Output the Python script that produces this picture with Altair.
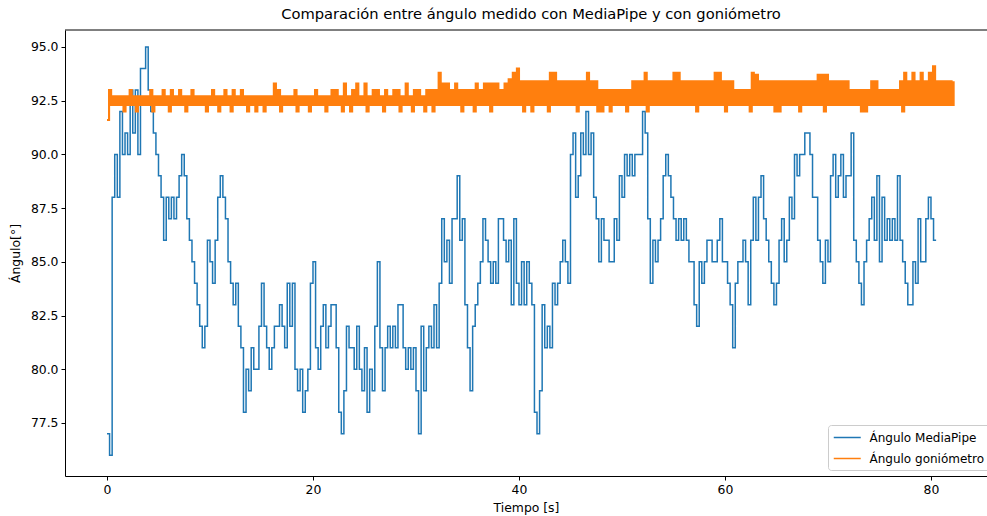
import altair as alt
import pandas as pd

TITLE = "Comparación entre ángulo medido con MediaPipe y con goniómetro"
SERIES = ["Ángulo MediaPipe", "Ángulo goniómetro"]
COLORS = ["#1f77b4", "#ff7f0e"]
X_TICKS = [0, 20, 40, 60, 80]
Y_TICKS = [77.5, 80.0, 82.5, 85.0, 87.5, 90.0, 92.5, 95.0]
DT_MEDIAPIPE = 0.25   # s between MediaPipe readings below
DT_GONIO = 0.2        # s between goniometer readings below

# MediaPipe angle (deg), 4 readings per second, rows = seconds 0..80
mediapipe = [
    77, 76, 88, 90,  88, 92, 90, 91,  90, 93, 91, 93,  90, 94, 94, 95,  93, 92, 91, 90,
    89, 88, 86, 88,  87, 88, 87, 88,  89, 90, 89, 87,  86, 85, 84, 83,  82, 81, 82, 86,
    85, 84, 86, 88,  89, 88, 87, 85,  84, 83, 84, 82,  81, 78, 80, 79,  81, 80, 80, 82,
    84, 82, 81, 80,  81, 82, 82, 83,  82, 81, 84, 82,  84, 80, 79, 80,  78, 79, 80, 84,
    85, 81, 80, 82,  83, 81, 82, 83,  83, 81, 78, 77,  79, 82, 81, 81,  80, 82, 80, 79,
    81, 78, 80, 79,  82, 85, 81, 79,  81, 82, 81, 82,  81, 83, 83, 81,  80, 81, 80, 81,
    79, 77, 82, 79,  81, 82, 81, 83,  81, 84, 87, 85,  86, 84, 87, 87,  89, 86, 87, 83,
    81, 79, 82, 83,  84, 85, 87, 86,  85, 84, 85, 84,  87, 87, 86, 85,  86, 83, 87, 84,
    83, 85, 83, 85,  84, 83, 78, 77,  79, 83, 81, 82,  81, 84, 83, 84,  85, 86, 85, 84,
    90, 91, 88, 89,  91, 90, 92, 90,  91, 88, 87, 85,  87, 86, 86, 85,  85, 87, 86, 89,
    88, 90, 89, 90,  89, 90, 90, 90,  92, 91, 87, 84,  86, 85, 86, 87,  89, 90, 89, 88,
    87, 86, 87, 86,  87, 86, 85, 85,  83, 82, 85, 84,  85, 86, 86, 85,  85, 86, 87, 85,
    85, 84, 83, 81,  84, 85, 85, 86,  85, 83, 86, 88,  86, 88, 89, 87,  86, 85, 84, 83,
    84, 86, 87, 85,  86, 88, 87, 90,  89, 90, 90, 91,  91, 90, 88, 88,  86, 85, 84, 86,
    85, 89, 90, 88,  89, 90, 88, 89,  89, 91, 86, 85,  84, 83, 85, 86,  87, 88, 86, 89,
    85, 88, 86, 87,  86, 87, 86, 89,  86, 85, 84, 83,  83, 85, 84, 87,  85, 85, 87, 88,
    87, 86, 86,
]

# Goniometer angle (deg), 5 readings per second, one row per second (0..82)
goniometro = [
    91.6, 93.0, 92.3, 92.7, 92.3,  92.7, 92.3, 92.7, 92.0, 92.7,
    92.3, 93.0, 92.3, 92.7, 92.0,  92.7, 92.3, 92.7, 92.3, 92.7,
    92.3, 93.0, 92.0, 92.7, 92.3,  92.7, 92.3, 93.0, 92.3, 92.7,
    92.0, 93.0, 92.3, 92.7, 92.3,  93.0, 92.3, 92.7, 92.0, 92.7,
    92.3, 93.0, 92.3, 92.7, 92.3,  92.7, 92.3, 92.7, 92.0, 92.7,
    92.3, 93.0, 92.3, 92.7, 92.0,  92.7, 92.3, 93.0, 92.3, 92.7,
    92.0, 93.0, 92.3, 92.7, 92.3,  93.0, 92.3, 92.7, 92.0, 92.7,
    92.3, 92.7, 92.0, 92.7, 92.3,  92.7, 92.0, 92.7, 92.3, 92.7,
    92.3, 93.3, 92.3, 93.0, 92.0,  92.7, 92.3, 92.7, 92.3, 92.7,
    92.3, 93.0, 92.0, 92.7, 92.3,  92.7, 92.3, 92.7, 92.0, 92.7,
    92.3, 93.0, 92.3, 92.7, 92.3,  92.7, 92.0, 92.7, 92.3, 93.0,
    92.3, 93.0, 92.3, 92.7, 92.0,  93.3, 92.3, 92.7, 92.0, 93.0,
    92.3, 93.3, 92.3, 92.7, 92.3,  93.3, 92.0, 92.7, 92.3, 93.0,
    92.3, 93.0, 92.3, 92.7, 92.0,  93.0, 92.3, 92.7, 92.3, 93.0,
    92.3, 93.0, 92.0, 92.7, 92.3,  93.3, 92.3, 92.7, 92.0, 93.0,
    92.3, 93.0, 92.3, 92.7, 92.0,  93.0, 92.3, 93.0, 92.0, 93.0,
    92.3, 93.8, 92.3, 93.3, 92.3,  93.3, 92.3, 93.0, 92.3, 93.3,
    92.3, 93.0, 92.0, 93.0, 92.3,  93.0, 92.3, 93.0, 92.0, 93.3,
    92.3, 93.0, 92.3, 93.3, 92.3,  93.3, 92.0, 93.3, 92.3, 93.3,
    92.3, 93.0, 92.3, 93.3, 92.3,  93.5, 92.3, 93.8, 92.3, 94.0,
    92.3, 93.4, 92.0, 93.4, 92.3,  93.4, 92.0, 93.4, 92.3, 93.4,
    92.3, 93.4, 92.3, 93.4, 92.0,  93.8, 92.3, 93.8, 92.3, 93.4,
    92.3, 93.4, 92.3, 93.4, 92.3,  93.4, 92.3, 93.4, 92.0, 93.4,
    92.3, 93.4, 92.3, 93.8, 92.3,  93.4, 92.3, 93.4, 92.0, 93.0,
    92.0, 93.0, 92.3, 93.0, 92.0,  93.0, 92.3, 93.0, 92.3, 93.0,
    92.3, 93.0, 92.0, 93.0, 92.3,  93.4, 92.3, 93.4, 92.3, 93.4,
    92.3, 93.8, 92.0, 93.4, 92.3,  93.4, 92.3, 93.4, 92.3, 93.4,
    92.3, 93.4, 92.3, 93.4, 92.3,  93.8, 92.3, 93.8, 92.3, 93.4,
    92.3, 93.4, 92.3, 93.4, 92.3,  93.4, 92.0, 93.4, 92.3, 93.4,
    92.3, 93.4, 92.3, 93.4, 92.3,  93.8, 92.3, 93.8, 92.3, 93.4,
    92.0, 93.4, 92.3, 93.4, 92.3,  93.0, 92.3, 93.0, 92.3, 93.0,
    92.3, 93.0, 92.0, 93.8, 92.3,  93.7, 92.3, 93.4, 92.3, 93.4,
    92.3, 93.4, 92.3, 93.4, 92.0,  93.4, 92.0, 93.4, 92.3, 93.4,
    92.3, 93.4, 92.3, 93.4, 92.3,  93.4, 92.0, 93.4, 92.3, 93.4,
    92.3, 93.4, 92.3, 93.4, 92.3,  93.7, 92.3, 93.7, 92.0, 93.7,
    92.3, 93.4, 92.3, 93.4, 92.3,  93.4, 92.3, 93.4, 92.3, 93.4,
    92.3, 93.0, 92.3, 93.0, 92.3,  93.0, 92.0, 93.0, 92.0, 93.0,
    92.3, 93.4, 92.3, 93.4, 92.3,  93.0, 92.3, 93.0, 92.3, 93.0,
    92.3, 93.0, 92.3, 93.0, 92.3,  93.4, 92.0, 93.8, 92.3, 93.4,
    92.3, 93.8, 92.3, 93.4, 92.3,  93.8, 92.3, 93.4, 92.3, 93.8,
    92.3, 94.1, 92.3, 93.4, 92.3,  93.4, 92.3, 93.4, 92.3, 93.4,
    92.3, 93.4,
]

df_m = pd.DataFrame({
    "t": [i * DT_MEDIAPIPE for i in range(len(mediapipe))],
    "v": mediapipe,
    "serie": SERIES[0],
})
df_g = pd.DataFrame({
    "t": [i * DT_GONIO for i in range(len(goniometro))],
    "v": goniometro,
    "serie": SERIES[1],
})

FONT = "DejaVu Sans"
FS = 12.4

color = alt.Color(
    "serie:N",
    scale=alt.Scale(domain=SERIES, range=COLORS),
    legend=alt.Legend(
        orient="none", legendX=763, legendY=395, title=None,
        symbolType="M-1,0L3,0", symbolSize=182.25, symbolStrokeWidth=1.5,
        labelFontSize=12, labelFont=FONT, labelColor="black", labelOffset=21.5,
        fillColor="white", strokeColor="#cccccc", cornerRadius=3,
        padding=5, rowPadding=7, direction="vertical",
    ),
)
x = alt.X(
    "t:Q",
    scale=alt.Scale(domain=[-4.078, 85.44], nice=False, zero=False),
    axis=alt.Axis(values=X_TICKS, format="d", title="Tiempo [s]", titlePadding=6),
)
y = alt.Y(
    "v:Q",
    scale=alt.Scale(domain=[75.03, 95.79], nice=False, zero=False),
    axis=alt.Axis(values=Y_TICKS, format=".1f", title="Ángulo[°]", titlePadding=8),
)

line_m = alt.Chart(df_m).mark_line(strokeWidth=1.5, interpolate="step-after").encode(
    x=x, y=y, color=color)
line_g = alt.Chart(df_g).mark_line(strokeWidth=2.1, interpolate="step-after").encode(
    x=x, y=y, color=color)
top_border = alt.Chart(pd.DataFrame({"a": [0]})).mark_rule(color="black", strokeWidth=1).encode(
    x=alt.value(0), x2=alt.value(922), y=alt.value(0)
)

chart = (
    alt.layer(line_m, line_g, top_border)
    .properties(
        width=922, height=446,
        padding={"left": 65, "right": 0, "top": 30, "bottom": 40},
        autosize=alt.AutoSizeParams(type="none"),
        title=alt.Title(TITLE, fontSize=14.7, font=FONT, fontWeight="normal",
                        color="black", offset=8, dx=5),
        background="white",
    )
    .configure_axis(
        labelFont=FONT, titleFont=FONT, labelFontSize=FS, titleFontSize=FS,
        titleFontWeight="normal", domainColor="black", tickColor="black",
        labelColor="black", titleColor="black", tickSize=4, grid=False,
        labelPadding=3, domainWidth=1,
    )
    .configure_view(stroke=None)
)

chart.save("out.html", embed_options={"renderer": "svg", "actions": False})
